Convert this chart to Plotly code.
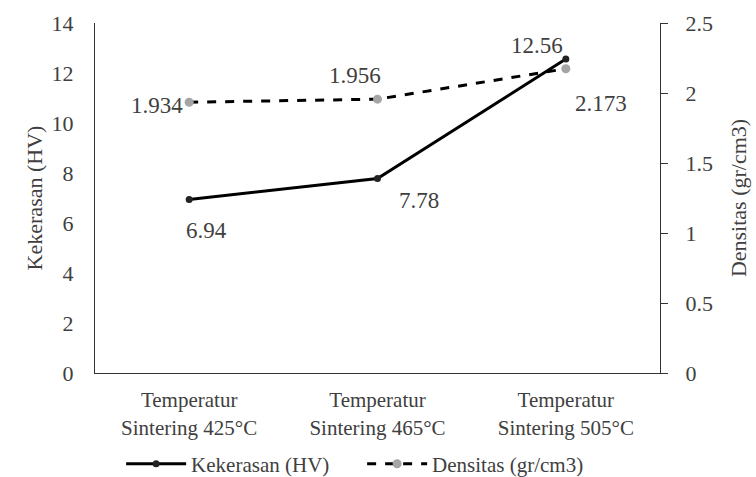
import plotly.graph_objects as go

categories = ["Temperatur<br>Sintering 425°C", "Temperatur<br>Sintering 465°C", "Temperatur<br>Sintering 505°C"]
kekerasan = [6.94, 7.78, 12.56]
densitas = [1.934, 1.956, 2.173]
kek_labels = ["6.94", "7.78", "12.56"]
den_labels = ["1.934", "1.956", "2.173"]

FONT = "Liberation Serif"
TXT = "#404040"

def f(size):
    return dict(family=FONT, size=size, color=TXT)

fig = go.Figure()
fig.add_trace(go.Scatter(
    x=categories, y=kekerasan, name="Kekerasan (HV)", mode="lines+markers",
    line=dict(color="black", width=3), marker=dict(color="#222222", size=7),
    yaxis="y"))
fig.add_trace(go.Scatter(
    x=categories, y=densitas, name="Densitas (gr/cm3)", mode="lines+markers",
    line=dict(color="black", width=3, dash="dash"), marker=dict(color="#A5A5A5", size=9),
    yaxis="y2"))

# data label offsets (pixels)
kek_shift = [(17, -31), (41, -22), (-29, 14)]
den_shift = [(-32, -3), (-23, 24), (35, -35)]
for c, v, t, (dx, dy) in zip(categories, kekerasan, kek_labels, kek_shift):
    fig.add_annotation(x=c, y=v, yref="y", text=t, showarrow=False,
                       xshift=dx, yshift=dy, font=f(23))
for c, v, t, (dx, dy) in zip(categories, densitas, den_labels, den_shift):
    fig.add_annotation(x=c, y=v, yref="y2", text=t, showarrow=False,
                       xshift=dx, yshift=dy, font=f(23))

fig.update_layout(
    width=756, height=477,
    margin=dict(l=95, r=96, t=23, b=104, autoexpand=False),
    paper_bgcolor="white", plot_bgcolor="white",
    font=f(21),
    xaxis=dict(type="category", range=[-0.5, 2.5], showline=True, linecolor="#333333",
               linewidth=1.3, ticks="", showgrid=False, tickfont=f(21),
               ticklabelstandoff=8),
    yaxis=dict(range=[0, 14], dtick=2, showline=True, linecolor="#333333", linewidth=1.3,
               ticks="", showgrid=False, zeroline=False, ticklabelstandoff=16,
               tickfont=f(22),
               title=dict(text="Kekerasan (HV)", font=f(22), standoff=2)),
    yaxis2=dict(range=[0, 2.5], dtick=0.5, overlaying="y", side="right", showline=True,
                linecolor="#333333", linewidth=1.3, ticks="outside", ticklen=7,
                tickcolor="#333333", showgrid=False, zeroline=False, ticklabelstandoff=13,
                tickfont=f(22),
                title=dict(text="Densitas (gr/cm3)", font=f(22), standoff=18)),
    legend=dict(orientation="h", x=0.479, xanchor="center", xref="container",
                y=0.027, yanchor="middle", yref="container",
                font=f(21), itemwidth=60, tracegroupgap=0, entrywidth=166,
                entrywidthmode="pixels"),
    showlegend=True,
)

fig.write_html("out.html")
